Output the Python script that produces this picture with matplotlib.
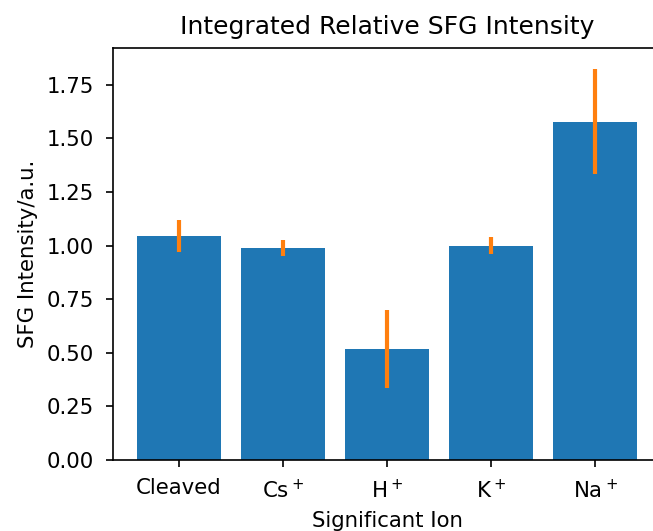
import matplotlib
matplotlib.use("Agg")
import matplotlib.pyplot as plt

categories = ["Cleaved", "Cs$^+$", "H$^+$", "K$^+$", "Na$^+$"]
values = [1.045, 0.989, 0.518, 0.999, 1.577]
errors = [0.075, 0.036, 0.182, 0.039, 0.245]

s = 1.5
plt.rcParams.update({
    "axes.linewidth": 0.8 * s,
    "xtick.major.width": 0.8 * s, "ytick.major.width": 0.8 * s,
    "xtick.major.size": 3.5 * s, "ytick.major.size": 3.5 * s,
    "xtick.major.pad": 8, "ytick.major.pad": 8,
})

fig = plt.figure(figsize=(6.53, 5.31), dpi=100)
ax = fig.add_axes([112.5/653, 1-460/531, (661.6-112.5)/653, 412/531])
ax.bar(range(len(categories)), values, color="#1f77b4")
ax.errorbar(range(len(categories)), values, yerr=errors, fmt="none", ecolor="#ff7f0e", elinewidth=3)
ax.set_xticks(range(len(categories)))
ax.set_xticklabels(categories, fontsize=15.3)
ax.tick_params(axis="y", labelsize=15.3)
ax.set_yticks([0, 0.25, 0.5, 0.75, 1.0, 1.25, 1.5, 1.75])
ax.set_ylim(0, 1.922)
ax.set_xlim(-0.64, 4.64)
ax.set_title("Integrated Relative SFG Intensity", fontsize=18, pad=10)
ax.set_xlabel("Significant Ion", fontsize=15.3, labelpad=7)
ax.set_ylabel("SFG Intensity/a.u.", fontsize=15.3, labelpad=6)
fig.savefig("out.png", dpi=100)
